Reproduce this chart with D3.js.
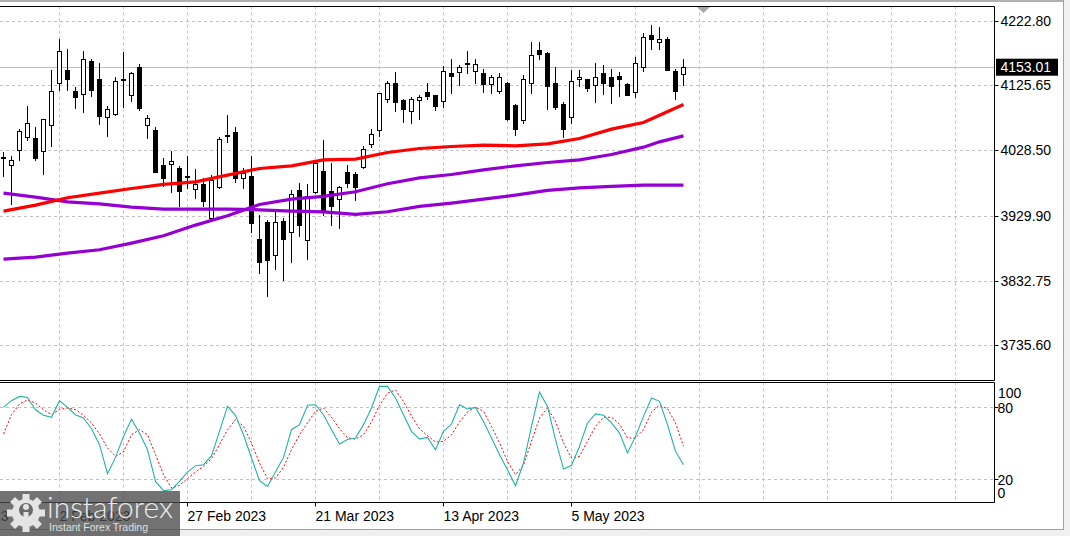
<!DOCTYPE html>
<html><head><meta charset="utf-8">
<script src="https://cdn.jsdelivr.net/npm/d3@7"></script>
<style>html,body{margin:0;padding:0;background:#fff;overflow:hidden}</style>
</head><body><svg id="c" width="1070" height="536"></svg>
<script>
// ---- data (daily candles) ----
const opens  = [4018,4006,4028,4049,4046,4027,4067,4129,4149,4118,4114,4162,4136,4079,4084,4136,4112,4153,4067,4059,4006,4007,4002,3990,3971,3978,3927,3973,4051,4056,3987,3989,3895,3921,3870,3922,3906,3969,3893,3965,3997,3967,3955,3995,3993,4003,4037,4059,4105,4129,4104,4087,4103,4116,4111,4103,4145,4145,4160,4147,4145,4127,4118,4130,4096,4075,4129,4179,4174,4129,4098,4079,4136,4135,4127,4145,4138,4140,4128,4115,4154,4202,4190,4196,4147,4142];
const highs  = [4026,4020,4060,4095,4064,4076,4149,4195,4181,4124,4177,4165,4159,4095,4139,4176,4146,4158,4081,4063,4017,4027,4005,4020,4000,3986,3991,4048,4081,4063,4002,4019,3931,3923,3936,3926,3969,3979,3977,4011,4044,4009,3974,4006,3996,4035,4060,4115,4132,4146,4106,4109,4111,4129,4112,4155,4166,4156,4177,4166,4150,4141,4145,4131,4098,4141,4191,4191,4176,4154,4101,4149,4149,4136,4160,4156,4151,4146,4129,4169,4204,4216,4213,4198,4150,4166];
const lows   = [3989,3947,4013,4043,4014,3993,4035,4119,4119,4092,4086,4110,4068,4050,4082,4094,4103,4089,4046,3995,3975,3966,3944,3972,3956,3945,3926,3971,4040,3980,3971,3905,3844,3810,3850,3833,3861,3899,3865,3964,3931,3916,3912,3973,3953,4002,4033,4050,4101,4088,4071,4070,4075,4105,4089,4094,4114,4127,4144,4130,4116,4115,4115,4074,4051,4070,4115,4166,4091,4090,4048,4069,4125,4118,4101,4113,4099,4110,4111,4108,4148,4181,4181,4149,4105,4126];
const closes = [4017,4013,4057,4070,4016,4075,4118,4177,4136,4109,4166,4119,4080,4091,4133,4135,4145,4091,4077,3996,3987,4012,3967,3988,3978,3953,3984,4045,4050,3987,3994,3919,3861,3864,3920,3895,3963,3916,3959,4009,3937,3945,3973,3979,3973,4030,4052,4114,4129,4100,4091,4105,4108,4110,4094,4148,4140,4153,4158,4158,4128,4138,4139,4076,4060,4136,4171,4173,4124,4093,4061,4133,4139,4121,4139,4130,4124,4136,4112,4159,4199,4196,4195,4150,4117,4153.01];

// moving averages, sampled at these candle indices
const maIndex      = [0,4,8,12,16,20,24,28,32,36,40,44,48,52,56,60,64,68,72,76,80,82,85];
const maRed        = [3937,3946,3957,3964,3971,3977,3981,3991,4001,4005,4014,4015,4025,4031,4034,4036,4035,4038,4046,4060,4070,4081,4097];
const maPurpleFast = [3865,3868,3874,3879,3889,3900,3916,3930,3947,3955,3959,3966,3978,3987,3992,3999,4005,4010,4014,4022,4033,4041,4050];
const maPurpleSlow = [3964,3958,3951,3948,3943,3940,3940,3940,3939,3937,3936,3932,3936,3944,3949,3955,3961,3968,3972,3974,3976,3976,3976];

// stochastic oscillator
const stochMain   = [79.7,85.3,88.8,88,77.7,73.1,71.4,85.3,79.7,73.6,70.8,61.9,48.6,24.4,38,55.5,69.9,58.3,44.4,18,10.3,11.1,18,25.8,31.1,31.9,39.4,59.7,80.5,73.1,56.9,37.5,18.6,13.8,25.8,38,61.1,65.3,81.4,81.9,73.6,61.1,49.2,53,54.2,65.3,79.2,97.2,97.2,87.5,73.6,59.7,53.3,54.7,44.4,59.7,65.8,81.9,78.3,79.7,68,54.2,40.3,27.8,14.4,33.3,63.9,92.5,80.5,52.8,28.3,31.4,47.2,66.7,74.2,73.1,66.7,58.3,41.7,55.5,72.2,87.5,84.7,65.3,43.1,31.9];
const stochSignal = [57.5,73.6,82.5,85.8,83.3,77.7,73.6,78,79.2,77.7,73.1,66.7,57.5,45.8,38.8,42.5,56.9,61.1,56.9,40.3,23.6,12.5,14.7,20.3,25.8,30.6,37,48.6,61.1,69.4,63.9,50,33.3,20.3,20.8,29.7,44.4,56.9,66.7,76.4,79.2,71.4,61.9,54.5,53.2,56.9,67.5,81.4,91.4,94.2,84.7,72.5,61.9,56.1,50.8,51.4,56.7,67.5,75.8,80,76.4,63.9,50,34.7,23.6,31.4,51.4,70.8,79.2,68.1,50,37.5,38.9,51.4,63.9,71.4,71.4,65.8,54.2,54.2,61.1,75.8,81.4,78.6,66.7,47.2];

const priceTicks = [4222.80,4125.65,4028.50,3929.90,3832.75,3735.60];
const stochTicks = [100,80,20,0];
const labelIndex = [-9,7,23,39,55,71];
const labelText  = ["12 Jan 2023","2 Feb 2023","27 Feb 2023","21 Mar 2023","13 Apr 2023","5 May 2023"];
const lastPrice = 4153.01;

// ---- drawing ----
const svg = d3.select('#c');
const FONT = "'Liberation Sans', Arial, sans-serif";
const x  = d3.scaleLinear().domain([0,1]).range([3.5,11.5]);
const y  = d3.scaleLinear().domain([3735.60,4222.80]).range([345.3,20.7]);
const ys = d3.scaleLinear().domain([0,100]).range([503,383]);
const px = v => Math.round(v) + 0.5;

const R = 994.5, MT = 6.5, MB = 380.5, ST = 382.5, SB = 502.5;
svg.append('rect').attr('width',1070).attr('height',536).attr('fill','#fff');

const defs = svg.append('defs');
defs.append('clipPath').attr('id','mainClip').append('rect').attr('x',0).attr('y',MT).attr('width',R).attr('height',MB-MT);
defs.append('clipPath').attr('id','stClip').append('rect').attr('x',0).attr('y',ST).attr('width',R).attr('height',SB-ST);

const gridColor = '#c0c0c0';
const vIdx = d3.range(7, 125, 8);

// main grid
const gMain = svg.append('g').attr('clip-path','url(#mainClip)');
gMain.selectAll('.vg').data(vIdx).join('line')
  .attr('x1',d=>x(d)).attr('x2',d=>x(d)).attr('y1',MT).attr('y2',MB)
  .attr('stroke',gridColor).attr('stroke-dasharray','3,3');
gMain.selectAll('.hg').data(priceTicks).join('line')
  .attr('x1',0).attr('x2',R).attr('y1',d=>px(y(d))).attr('y2',d=>px(y(d)))
  .attr('stroke',gridColor).attr('stroke-dasharray','3,3');
// last price line
gMain.append('line').attr('x1',0).attr('x2',R).attr('y1',px(y(lastPrice))).attr('y2',px(y(lastPrice)))
  .attr('stroke','#c0c0c0');

// candles
const idx = d3.range(opens.length);
gMain.selectAll('.wick').data(idx).join('line')
  .attr('x1',i=>x(i)).attr('x2',i=>x(i))
  .attr('y1',i=>Math.round(y(highs[i]))).attr('y2',i=>Math.round(y(lows[i]))+1)
  .attr('stroke','#000');
gMain.selectAll('.body').data(idx).join('rect')
  .attr('x',i=>x(i)-2).attr('width',4)
  .attr('y',i=>px(Math.min(y(opens[i]),y(closes[i]))))
  .attr('height',i=>Math.max(0.01, Math.round(Math.abs(y(opens[i])-y(closes[i])))))
  .attr('fill',i=>closes[i]>=opens[i]?'#fff':'#000')
  .attr('stroke','#000');

// moving averages
const maLine = d3.line().x((d,k)=>x(maIndex[k])).y(d=>y(d));
[[maPurpleSlow,'#9400d3'],[maPurpleFast,'#9400d3'],[maRed,'#ff0000']].forEach(([arr,col])=>{
  gMain.append('path').attr('d',maLine(arr)).attr('fill','none').attr('stroke',col).attr('stroke-width',3.2);
});

// stochastic panel
const gSt = svg.append('g').attr('clip-path','url(#stClip)');
gSt.selectAll('.vg').data(vIdx).join('line')
  .attr('x1',d=>x(d)).attr('x2',d=>x(d)).attr('y1',ST).attr('y2',SB)
  .attr('stroke',gridColor).attr('stroke-dasharray','3,3');
gSt.selectAll('.hg').data([80,20]).join('line')
  .attr('x1',0).attr('x2',R).attr('y1',d=>px(ys(d))).attr('y2',d=>px(ys(d)))
  .attr('stroke',gridColor).attr('stroke-dasharray','3,3');
const stLine = d3.line().x((d,i)=>x(i)).y(d=>ys(d));
gSt.append('path').attr('d',stLine(stochSignal)).attr('fill','none').attr('stroke','#ff0000').attr('stroke-dasharray','2,2');
gSt.append('path').attr('d',stLine(stochMain)).attr('fill','none').attr('stroke','#20b2aa').attr('stroke-width',1.1);

// borders
const bd = svg.append('g').attr('stroke','#000').attr('fill','none');
bd.append('path').attr('d',`M0,${MT}H${R}V${MB}H0`);
bd.append('path').attr('d',`M0,${ST}H${R}V${SB}H0`);

// price axis
const pa = svg.append('g');
pa.selectAll('line').data(priceTicks).join('line')
  .attr('x1',R).attr('x2',R+4).attr('y1',d=>px(y(d))).attr('y2',d=>px(y(d))).attr('stroke','#000');
pa.selectAll('text').data(priceTicks).join('text')
  .attr('x',1000.5).attr('y',d=>y(d)).attr('dy','0.36em')
  .attr('font-family',FONT).attr('font-size',14).attr('fill','#000')
  .text(d=>d.toFixed(2));
// current price box
pa.append('rect').attr('x',996).attr('y',y(lastPrice)-8.5).attr('width',62).attr('height',17).attr('fill','#000');
pa.append('text').attr('x',1000.5).attr('y',y(lastPrice)).attr('dy','0.36em')
  .attr('font-family',FONT).attr('font-size',14).attr('fill','#fff').text(lastPrice.toFixed(2));

// stochastic axis
const stOff = {100:10, 80:0.5, 20:0.5, 0:-10};
svg.append('g').selectAll('text').data(stochTicks).join('text')
  .attr('x',d=>d===100?998:997.5).attr('y',d=>ys(d)+stOff[d]).attr('dy','0.36em')
  .attr('font-family',FONT).attr('font-size',14).attr('fill','#000').text(d=>d);
svg.append('g').selectAll('line').data([80,20]).join('line')
  .attr('x1',R).attr('x2',R+4).attr('y1',d=>px(ys(d))).attr('y2',d=>px(ys(d))).attr('stroke','#000');

// time axis
const ta = svg.append('g');
ta.selectAll('line').data(labelIndex).join('line')
  .attr('x1',i=>x(i)).attr('x2',i=>x(i)).attr('y1',SB).attr('y2',SB+4).attr('stroke','#000');
ta.selectAll('text').data(labelIndex).join('text')
  .attr('x',i=>x(i)).attr('y',521)
  .attr('font-family',FONT).attr('font-size',14).attr('fill','#000')
  .text((d,k)=>labelText[k]);

// chart shift marker
svg.append('polygon').attr('points','697,7 710,7 703.5,13').attr('fill','#a8a8a8');

// window frame
svg.append('rect').attr('x',0).attr('y',0).attr('width',1070).attr('height',2).attr('fill','#b0b0b0');
svg.append('rect').attr('x',0).attr('y',530).attr('width',1070).attr('height',6).attr('fill','#f0f0f0');
svg.append('line').attr('x1',0).attr('x2',1064).attr('y1',529.5).attr('y2',529.5).attr('stroke','#a0a0a0');
svg.append('rect').attr('x',1064).attr('y',0).attr('width',6).attr('height',536).attr('fill','#f0f0f0');
svg.append('line').attr('x1',1063.5).attr('x2',1063.5).attr('y1',0).attr('y2',530).attr('stroke','#a0a0a0');

// watermark logo
const lg = svg.append('g');
lg.append('rect').attr('x',0).attr('y',491).attr('width',180).attr('height',45).attr('fill','#4a4a4a').attr('opacity',0.78);
const gc = [26,513];
const gear = lg.append('g').attr('transform',`translate(${gc[0]},${gc[1]})`).attr('fill','#e4e4e4');
d3.range(8).forEach(k=>{
  gear.append('rect').attr('x',-3.5).attr('y',-19).attr('width',7).attr('height',8).attr('transform',`rotate(${k*45})`);
});
gear.append('circle').attr('r',14);
gear.append('circle').attr('r',7).attr('cy',-3).attr('fill','#6a6a6a');
gear.append('circle').attr('r',3).attr('cy',-6).attr('fill','#e4e4e4');
gear.append('rect').attr('x',-2.5).attr('y',-1).attr('width',5).attr('height',14).attr('fill','#e4e4e4');
lg.append('text').attr('x',47).attr('y',518).attr('font-family',"Lato, 'Open Sans', sans-serif").attr('font-weight',300)
  .attr('font-size',30).attr('fill','#ececec').attr('textLength',126).attr('lengthAdjust','spacingAndGlyphs').text('instaforex');
lg.append('text').attr('x',49).attr('y',531).attr('font-family',"'Liberation Sans', Arial, sans-serif")
  .attr('font-size',11).attr('fill','#e0e0e0').attr('textLength',99).attr('lengthAdjust','spacingAndGlyphs').text('Instant Forex Trading');
</script></body></html>
